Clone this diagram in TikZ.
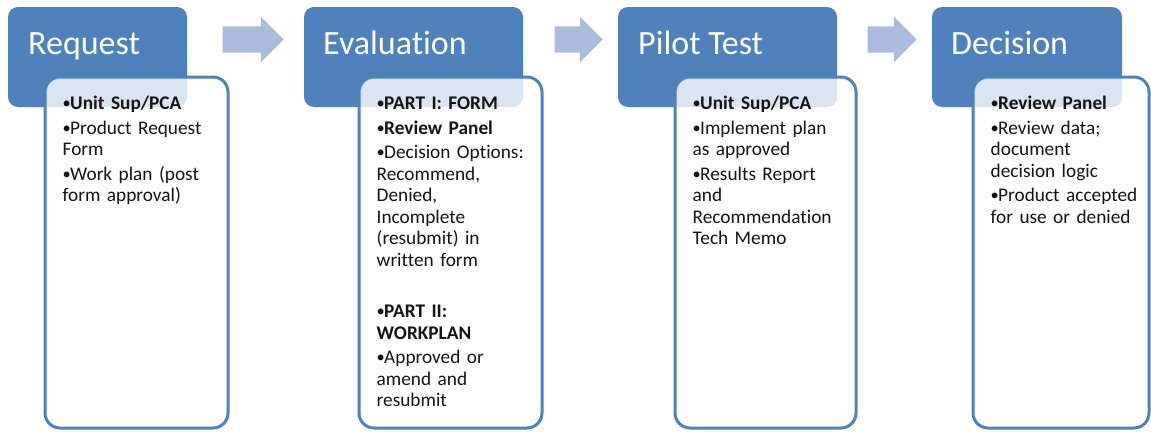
\documentclass[tikz,border=0pt]{standalone}
\usepackage{fontspec}
\setmainfont{Carlito}[Ligatures=NoCommon]
\usetikzlibrary{shapes.arrows}
\definecolor{stepblue}{HTML}{4F81BD}
\definecolor{arrowblue}{HTML}{A9BCDB}
\definecolor{listtext}{HTML}{141414}
\newcommand\stepbullet{\makebox[7.5pt][l]{\raisebox{0.8pt}{\scalebox{0.85}{\textbullet}}}}
\newcommand\stepitem[1]{\par\hangindent=7.5pt\hangafter=1\noindent\stepbullet\strut#1}
\newcommand\stepgap{\par\vspace{27pt}}
\begin{document}
\begin{tikzpicture}[x=1pt,y=-1pt,
  headbox/.style={fill=stepblue,rounded corners=10pt,anchor=north west,inner sep=0pt,outer sep=0pt,minimum height=100pt},
  headtitle/.style={text=white,font=\fontsize{34}{40}\selectfont,anchor=base west,inner sep=0pt},
  bodybox/.style={draw=stepblue,line width=3pt,fill=white,fill opacity=0.8,rounded corners=15pt,anchor=north west,inner sep=0pt,outer sep=0pt,minimum height=351pt},
  itemlist/.style={text=listtext,font=\fontsize{19.3}{21.5}\selectfont\setlength\parskip{3pt},anchor=north west,inner sep=0pt,text width=165pt,align=left},
  flowarrow/.style={shape=single arrow,fill=arrowblue,inner sep=0pt,inner ysep=13pt,single arrow head extend=9.5pt,single arrow head indent=0pt}]
\useasboundingbox (0,0) rectangle (1151,431);
\node[headbox,minimum width=179pt] (Request) at (8,7) {};
\node[headbox,minimum width=219pt] (Evaluation) at (304,7) {};
\node[headbox,minimum width=219pt] (PilotTest) at (618,7) {};
\node[headbox,minimum width=190pt] (Decision) at (932,7) {};
\node[bodybox,minimum width=183pt] (RequestBody) at (45,77) {};
\node[bodybox,minimum width=183pt] (EvaluationBody) at (359,77) {};
\node[bodybox,minimum width=181pt] (PilotTestBody) at (675,77) {};
\node[bodybox,minimum width=176pt] (DecisionBody) at (973,77) {};
\node[headtitle] (RequestTitle) at (28,54) {Request};
\node[headtitle] (EvaluationTitle) at (323,54) {Evaluation};
\node[headtitle] (PilotTestTitle) at (638,54) {Pilot Test};
\node[headtitle] (DecisionTitle) at (951,54) {Decision};
\node[itemlist] (RequestList) at (62.5,85) {%
  \stepitem{\textbf{Unit Sup/PCA}}
  \stepitem{Product Request\\Form}
  \stepitem{Work plan (post\\form approval)}};
\node[itemlist] (EvaluationList) at (376.5,85) {%
  \stepitem{\textbf{PART I: FORM}}
  \stepitem{\textbf{Review Panel}}
  \stepitem{Decision Options:\\Recommend,\\Denied,\\Incomplete\\(resubmit) in\\written form}
  \stepgap
  \stepitem{\textbf{PART II:\\WORKPLAN}}
  \stepitem{Approved or\\amend and\\resubmit}};
\node[itemlist] (PilotTestList) at (692.5,85) {%
  \stepitem{\textbf{Unit Sup/PCA}}
  \stepitem{Implement plan\\as approved}
  \stepitem{Results Report\\and\\Recommendation\\Tech Memo}};
\node[itemlist] (DecisionList) at (990.5,85) {%
  \stepitem{\textbf{Review Panel}}
  \stepitem{Review data;\\document\\decision logic}
  \stepitem{Product accepted\\for use or denied}};
\node[flowarrow,minimum height=61pt] (Arrow1) at (246.5,39.5) {};
\node[flowarrow,minimum height=48pt] (Arrow2) at (572,39.5) {};
\node[flowarrow,minimum height=49pt] (Arrow3) at (885.5,39.5) {};
\end{tikzpicture}
\end{document}
